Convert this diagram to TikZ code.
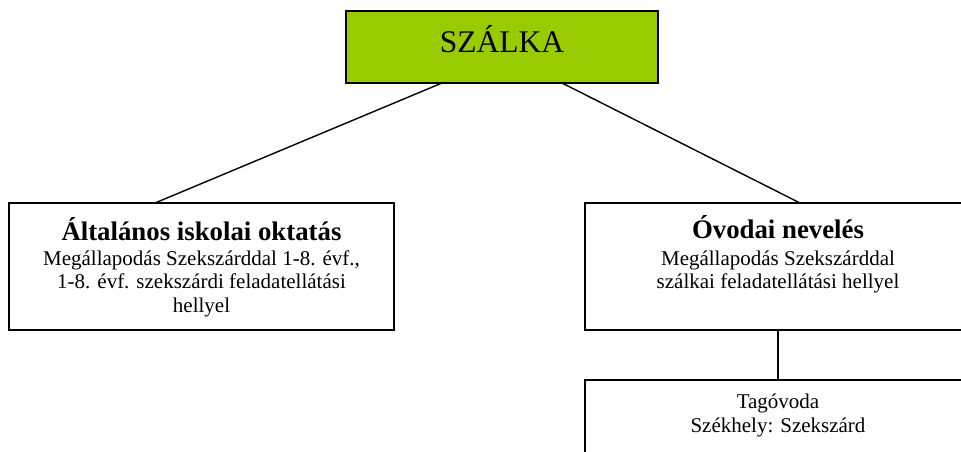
\documentclass[tikz,border=0pt]{standalone}
\usepackage{fontspec}
\setmainfont{Liberation Serif}
\definecolor{limegreen}{RGB}{153,204,0}
\newcommand{\regtext}{\fontsize{21}{23.5}\selectfont}
\newcommand{\boldtext}{\fontsize{26.8}{30}\selectfont\bfseries}
\newcommand{\rowstack}[1]{\setlength{\tabcolsep}{0pt}\begin{tabular}[t]{c}#1\end{tabular}}
\begin{document}
\begin{tikzpicture}[x=1pt,y=-1pt,
  box/.style={draw,line width=2pt,inner sep=0pt,outer sep=0pt},
  conn/.style={line width=1.4pt},
  txt/.style={anchor=base,inner sep=0pt,outer sep=0pt}]
\useasboundingbox (0,0) rectangle (961,452);
\clip (0,0) rectangle (961,452);
% boxes
\node[box,fill=limegreen,minimum width=312pt,minimum height=72pt] (root) at (502,47) {};
\node[box,minimum width=385pt,minimum height=127pt] (left) at (201.5,266.5) {};
\node[box,minimum width=386pt,minimum height=127pt] (right) at (778,266.5) {};
\node[box,minimum width=386pt,minimum height=140pt] (bottom) at (778,450) {};
% texts
\node[txt,font=\fontsize{31.5}{36}\selectfont] (roott) at (502,53) {SZÁLKA};
\node[txt,font=\boldtext] (leftt) at (201.5,240) {Általános iskolai oktatás};
\node[txt,font=\regtext] (leftb) at (201.5,265) {\rowstack{Megállapodás Szekszárddal 1-8. évf.,\\1-8. évf. szekszárdi feladatellátási\\hellyel}};
\node[txt,font=\boldtext] (rightt) at (778,238) {Óvodai nevelés};
\node[txt,font=\regtext] (rightb) at (778,265) {\rowstack{Megállapodás Szekszárddal\\szálkai feladatellátási hellyel}};
\node[txt,font=\fontsize{21}{24}\selectfont] (bottomt) at (778,408) {\rowstack{Tagóvoda\\Székhely: Szekszárd}};
% connectors
\coordinate (rl) at ([xshift=-60pt]root.south);
\coordinate (rr) at ([xshift=60pt]root.south);
\draw[conn] (rl) -- ([xshift=-46.5pt]left.north);
\draw[conn] (rr) -- ([xshift=22pt]right.north);
\draw[conn] (right.south) -- (bottom.north);
\end{tikzpicture}
\end{document}
